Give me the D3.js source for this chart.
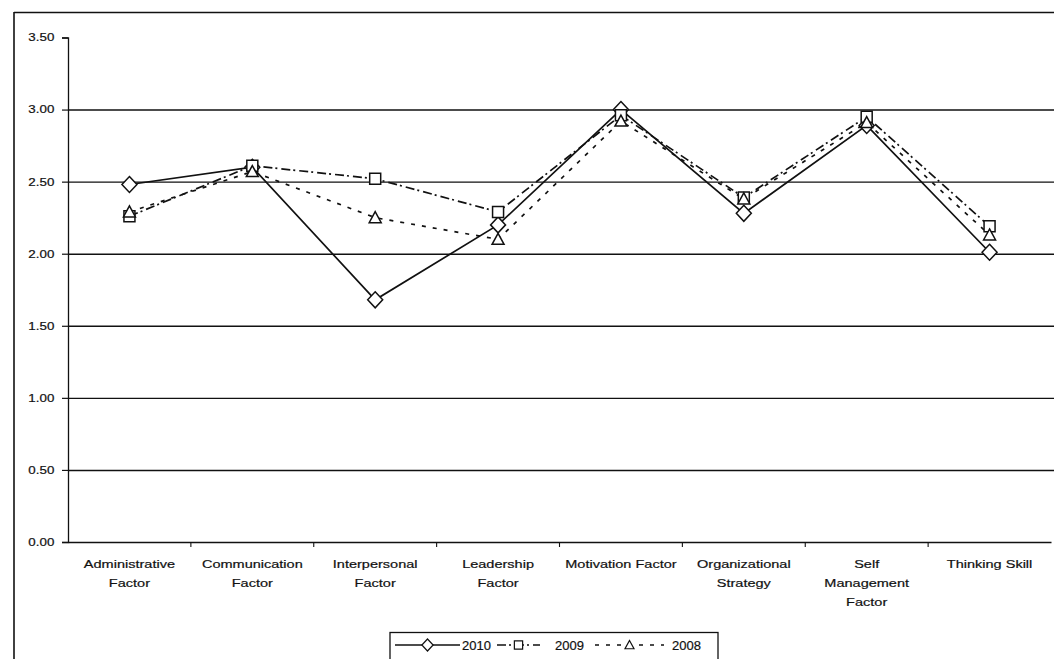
<!DOCTYPE html>
<html>
<head>
<meta charset="utf-8">
<script src="https://cdn.jsdelivr.net/npm/d3@7"></script>
<style>
  html, body { margin: 0; padding: 0; background: #fff; }
  svg { display: block; }
  text { font-family: "Liberation Sans", Arial, sans-serif; fill: #111; }
</style>
</head>
<body>
<svg id="chart" width="1054" height="659"></svg>
<script>
// Average scores per competency factor, by year
const categories = [
  "Administrative Factor", "Communication Factor", "Interpersonal Factor",
  "Leadership Factor", "Motivation Factor", "Organizational Strategy",
  "Self Management Factor", "Thinking Skill"
];
const categoryLines = [
  ["Administrative", "Factor"], ["Communication", "Factor"], ["Interpersonal", "Factor"],
  ["Leadership", "Factor"], ["Motivation Factor"], ["Organizational", "Strategy"],
  ["Self", "Management", "Factor"], ["Thinking Skill"]
];
const values2010 = [2.48, 2.60, 1.68, 2.20, 3.00, 2.28, 2.89, 2.01];
const values2009 = [2.26, 2.61, 2.52, 2.29, 2.96, 2.39, 2.95, 2.19];
const values2008 = [2.29, 2.57, 2.25, 2.10, 2.92, 2.38, 2.91, 2.13];
const seriesNames = ["2010", "2009", "2008"];
const yTicks = [0, 0.5, 1.0, 1.5, 2.0, 2.5, 3.0, 3.5];

const svg = d3.select("#chart");
const plot = { left: 68, right: 1051, top: 37.5, bottom: 542 };

const xBand = d3.scaleBand().domain(categories).range([plot.left, plot.right]).padding(0);
const x = c => xBand(c) + xBand.bandwidth() / 2;
const y = d3.scaleLinear().domain([0, 3.5]).range([plot.bottom, plot.top]);

// outer chart frame (top and left edges)
svg.append("line").attr("x1", 14).attr("x2", 1054).attr("y1", 12.5).attr("y2", 12.5)
  .attr("stroke", "#111").attr("stroke-width", 1.6);
svg.append("line").attr("x1", 14).attr("x2", 14).attr("y1", 12).attr("y2", 659)
  .attr("stroke", "#111").attr("stroke-width", 1.6);

// horizontal gridlines
svg.append("g")
  .attr("transform", `translate(${plot.left},0)`)
  .call(d3.axisLeft(y).tickValues(yTicks.filter(v => v > 0 && v < 3.5))
    .tickSize(-(plot.right + 3 - plot.left)).tickFormat(""))
  .call(g => g.select(".domain").remove())
  .call(g => g.selectAll(".tick line").attr("stroke", "#111").attr("stroke-width", 1.4));

// y axis
const yAxis = svg.append("g")
  .attr("transform", `translate(${plot.left},0)`)
  .call(d3.axisLeft(y).tickValues(yTicks).tickFormat(d3.format(".2f")).tickSize(6).tickPadding(4));
yAxis.select(".domain").attr("stroke", "#111").attr("stroke-width", 1.3);
yAxis.selectAll(".tick line").attr("stroke", "#111").attr("stroke-width", 1.2);
yAxis.selectAll(".tick text")
  .attr("font-size", 10.5)
  .attr("stroke", "#111").attr("stroke-width", 0.2)
  .attr("transform", "translate(-1,0) scale(1.27,1)")
  .attr("font-family", "Liberation Sans, Arial, sans-serif");

// x axis with labels centred in each category, ticks on category boundaries
const xAxis = svg.append("g")
  .attr("transform", `translate(0,${plot.bottom})`)
  .call(d3.axisBottom(xBand).tickSize(0).tickFormat(""));
xAxis.select(".domain").attr("stroke", "#111").attr("stroke-width", 1.7);
xAxis.selectAll(".tick").each(function (d, i) {
  const t = d3.select(this).append("text")
    .attr("text-anchor", "middle")
    .attr("font-size", 11)
    .attr("stroke", "#111").attr("stroke-width", 0.2)
    .attr("transform", "scale(1.32,1)");
  categoryLines[i].forEach((ln, j) => {
    t.append("tspan").attr("x", 0).attr("y", 26 + j * 19).text(ln);
  });
});
xAxis.selectAll(".bound")
  .data(categories.slice(1).map(c => xBand(c)))
  .join("line").attr("class", "bound")
  .attr("x1", d => d).attr("x2", d => d).attr("y1", 0).attr("y2", 5)
  .attr("stroke", "#111").attr("stroke-width", 1.1);

// series styles
const styles = {
  "2010": { dash: null, symbol: "diamond" },
  "2009": { dash: "9,3,2,4", symbol: "square" },
  "2008": { dash: "4,7", symbol: "triangle" }
};
const seriesData = { "2010": values2010, "2009": values2009, "2008": values2008 };

function markerPath(kind) {
  if (kind === "diamond") return "M0,-8L7.5,0L0,8L-7.5,0Z";
  if (kind === "square") return "M-5.5,-5.5H5.5V5.5H-5.5Z";
  return "M0,-6L6,5L-6,5Z";
}

const line = d3.line().x(d => x(d.c)).y(d => y(d.v));

// lines
seriesNames.forEach(name => {
  const pts = categories.map((c, i) => ({ c, v: seriesData[name][i] }));
  svg.append("path").datum(pts)
    .attr("d", line)
    .attr("fill", "none")
    .attr("stroke", "#111")
    .attr("stroke-width", 1.7)
    .attr("stroke-dasharray", styles[name].dash);
});

// markers
seriesNames.forEach(name => {
  const pts = categories.map((c, i) => ({ c, v: seriesData[name][i] }));
  svg.append("g").selectAll("path").data(pts).join("path")
    .attr("d", markerPath(styles[name].symbol))
    .attr("transform", d => `translate(${x(d.c)},${y(d.v)})`)
    .attr("fill", "#fff")
    .attr("stroke", "#111")
    .attr("stroke-width", 1.5);
});

// legend
const legend = svg.append("g");
legend.append("rect").attr("x", 390).attr("y", 632.5).attr("width", 328).attr("height", 40)
  .attr("fill", "#fff").attr("stroke", "#111").attr("stroke-width", 1.3);
const legendItems = [
  { name: "2010", x1: 395, x2: 460, tx: 462 },
  { name: "2009", x1: 497, x2: 540, tx: 555 },
  { name: "2008", x1: 595, x2: 664, tx: 672 }
];
legendItems.forEach(it => {
  const ly = 645;
  legend.append("line").attr("x1", it.x1).attr("x2", it.x2).attr("y1", ly).attr("y2", ly)
    .attr("stroke", "#111").attr("stroke-width", 1.7)
    .attr("stroke-dasharray", styles[it.name].dash);
  legend.append("path").attr("d", markerPath(styles[it.name].symbol))
    .attr("transform", `translate(${(it.x1 + it.x2) / 2},${ly}) scale(0.75)`)
    .attr("fill", "#fff").attr("stroke", "#111").attr("stroke-width", 1.6);
  legend.append("text").attr("x", it.tx).attr("y", ly + 4.5)
    .attr("font-size", 13).attr("stroke", "#111").attr("stroke-width", 0.2)
    .text(it.name);
});
</script>
</body>
</html>
